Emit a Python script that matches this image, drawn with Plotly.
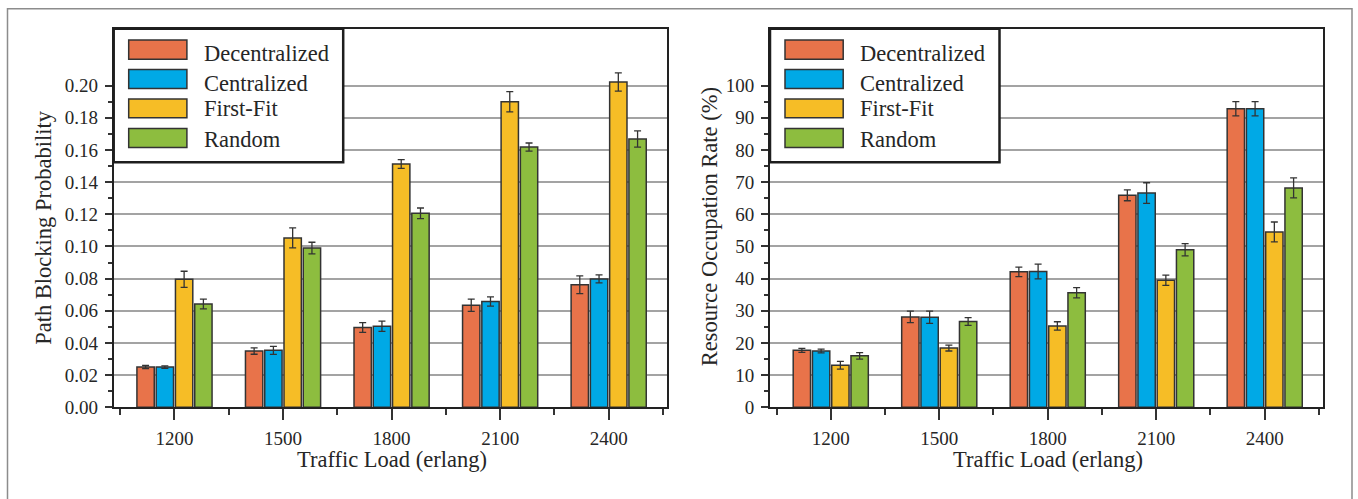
import numpy as np
import plotly.graph_objects as go

# ---------------- data ----------------
loads = ["1200", "1500", "1800", "2100", "2400"]
series_names = ["Decentralized", "Centralized", "First-Fit", "Random"]

pbp_dec = [0.0250, 0.0350, 0.0496, 0.0634, 0.0762]
pbp_dec_err = [0.0010, 0.0020, 0.0030, 0.0038, 0.0055]
pbp_cen = [0.0250, 0.0354, 0.0504, 0.0658, 0.0798]
pbp_cen_err = [0.0008, 0.0025, 0.0032, 0.0029, 0.0025]
pbp_ff = [0.0796, 0.1053, 0.1513, 0.1900, 0.2022]
pbp_ff_err = [0.0050, 0.0062, 0.0027, 0.0063, 0.0057]
pbp_rnd = [0.0642, 0.0990, 0.1206, 0.1618, 0.1668]
pbp_rnd_err = [0.0030, 0.0036, 0.0033, 0.0025, 0.0050]

ror_dec = [17.7, 28.1, 42.1, 65.9, 92.8]
ror_dec_err = [0.6, 1.8, 1.5, 1.7, 2.2]
ror_cen = [17.5, 28.0, 42.2, 66.6, 92.8]
ror_cen_err = [0.6, 1.9, 2.3, 3.2, 2.2]
ror_ff = [13.1, 18.4, 25.3, 39.5, 54.5]
ror_ff_err = [1.2, 0.9, 1.3, 1.6, 3.1]
ror_rnd = [16.0, 26.7, 35.6, 49.0, 68.2]
ror_rnd_err = [1.0, 1.2, 1.6, 1.9, 3.1]

colors = ["#E8734A", "#00A9E6", "#F6BD26", "#8DBD3F"]

# ---------------- layout helpers ----------------
W, H = 1358, 499
def px(x):
    return x / W
def py(y):
    return 1 - y / H

FONT = "Liberation Serif, Times New Roman, serif"
TXT = "#262626"
x_pos = list(range(len(loads)))

fig = go.Figure()
left_vals = [(pbp_dec, pbp_dec_err), (pbp_cen, pbp_cen_err), (pbp_ff, pbp_ff_err), (pbp_rnd, pbp_rnd_err)]
right_vals = [(ror_dec, ror_dec_err), (ror_cen, ror_cen_err), (ror_ff, ror_ff_err), (ror_rnd, ror_rnd_err)]

for (vals, errs), name, col in zip(left_vals, series_names, colors):
    fig.add_trace(go.Bar(
        x=x_pos, y=vals, name=name, marker=dict(color=col, line=dict(color="#333333", width=1.5)),
        error_y=dict(type="data", array=errs, color="#333333", thickness=1.3, width=3.5),
        xaxis="x", yaxis="y", showlegend=False))
for (vals, errs), name, col in zip(right_vals, series_names, colors):
    fig.add_trace(go.Bar(
        x=x_pos, y=vals, name=name, marker=dict(color=col, line=dict(color="#333333", width=1.5)),
        error_y=dict(type="data", array=errs, color="#333333", thickness=1.3, width=3.5),
        xaxis="x2", yaxis="y2", showlegend=False))

plot_top, plot_bot = 29.3, 416.5
L_left, L_right = 113.7, 667.3
R_left, R_right = 770.0, 1323.3

xcommon = dict(
    range=[-0.56, 4.54], tickmode="array", tickvals=x_pos, ticktext=loads,
    ticks="outside", ticklen=11, tickwidth=1.5, tickcolor="#333333",
    showline=True, linecolor="#222222", linewidth=2, mirror=True,
    showgrid=False, zeroline=False, ticklabelstandoff=2,
    tickfont=dict(family=FONT, size=19, color=TXT),
    minor=dict(tickmode="array", tickvals=[v + 0.5 for v in [-1] + x_pos],
               ticks="outside", ticklen=6, tickwidth=1.5, tickcolor="#333333", showgrid=False),
)
ycommon = dict(
    ticks="outside", ticklen=7, tickwidth=1.5, tickcolor="#333333",
    showline=True, linecolor="#222222", linewidth=2, mirror=True,
    showgrid=True, gridcolor="#a3a3a3", gridwidth=1.5, zeroline=False, ticklabelstandoff=3,
    tickfont=dict(family=FONT, size=19, color=TXT),
    domain=[py(plot_bot), py(plot_top)],
)

left_major = [round(0.02 * i, 2) for i in range(11)]
left_minor = [round(0.01 + 0.02 * i, 2) for i in range(10)]
right_major = [10 * i for i in range(11)]
right_minor = [5 + 10 * i for i in range(10)]

fig.update_layout(
    width=W, height=H, autosize=False, margin=dict(l=0, r=0, t=0, b=0),
    paper_bgcolor="white", plot_bgcolor="white",
    barmode="group", bargap=0.29, bargroupgap=0.1,
    xaxis=dict(xcommon, domain=[px(L_left), px(L_right)], anchor="y"),
    xaxis2=dict(xcommon, domain=[px(R_left), px(R_right)], anchor="y2"),
    yaxis=dict(ycommon, anchor="x", range=[0, 0.2354], tickmode="array",
               tickvals=left_major, ticktext=[f"{v:.2f}" for v in left_major],
               minor=dict(tickmode="array", tickvals=left_minor, ticks="outside",
                          ticklen=4, tickwidth=1.5, tickcolor="#333333", showgrid=False)),
    yaxis2=dict(ycommon, anchor="x2", range=[0, 117.7], tickmode="array",
                tickvals=right_major, ticktext=[str(v) for v in right_major],
                minor=dict(tickmode="array", tickvals=right_minor, ticks="outside",
                           ticklen=4, tickwidth=1.5, tickcolor="#333333", showgrid=False)),
    showlegend=False,
)

shapes = []
annotations = []
# outer frame
shapes.append(dict(type="path", xref="paper", yref="paper",
                   path=f"M {px(7.5)} {py(520)} L {px(7.5)} {py(9)} L {px(1352)} {py(9)} L {px(1352)} {py(520)}",
                   line=dict(color="#8c8c8c", width=1.5), layer="above"))

# legends
sw_y = [(41, 60.5), (71, 90.5), (101.3, 120.5), (131.3, 150.8)]
tx_y = [54.5, 85.3, 111.4, 142.3]
for ax_left in (L_left, R_left):
    shapes.append(dict(type="rect", xref="paper", yref="paper",
                       x0=px(ax_left), x1=px(ax_left + 229.5), y0=py(166), y1=py(plot_top),
                       fillcolor="white", line=dict(color="#1e1e1e", width=2.5), layer="above"))
    for (y0, y1), col, name, ty in zip(sw_y, colors, series_names, tx_y):
        shapes.append(dict(type="rect", xref="paper", yref="paper",
                           x0=px(ax_left + 15), x1=px(ax_left + 73.2), y0=py(y1), y1=py(y0),
                           fillcolor=col, line=dict(color="#333333", width=1.5), layer="above"))
        annotations.append(dict(xref="paper", yref="paper", x=px(ax_left + 88.3), y=py(ty),
                                xanchor="left", yanchor="middle", showarrow=False, text=name,
                                font=dict(family=FONT, size=22.5, color=TXT)))

# axis titles
annotations += [
    dict(xref="paper", yref="paper", x=px(392), y=py(469.5), text="Traffic Load (erlang)",
         showarrow=False, xanchor="center", yanchor="middle", font=dict(family=FONT, size=22.5, color=TXT)),
    dict(xref="paper", yref="paper", x=px(1048.4), y=py(469.5), text="Traffic Load (erlang)",
         showarrow=False, xanchor="center", yanchor="middle", font=dict(family=FONT, size=22.5, color=TXT)),
    dict(xref="paper", yref="paper", x=px(44), y=py(233), text="Path Blocking Probability", textangle=-90,
         showarrow=False, xanchor="center", yanchor="middle", font=dict(family=FONT, size=22.5, color=TXT)),
    dict(xref="paper", yref="paper", x=px(709), y=py(232.5), text="Resource Occupation Rate (%)", textangle=-90,
         showarrow=False, xanchor="center", yanchor="middle", font=dict(family=FONT, size=22.5, color=TXT)),
]
fig.update_layout(shapes=shapes, annotations=annotations)

fig.write_html("out.html",
               config=dict(displayModeBar=False, responsive=False),
               post_script="document.body.style.margin='0';document.body.style.overflow='hidden';")
